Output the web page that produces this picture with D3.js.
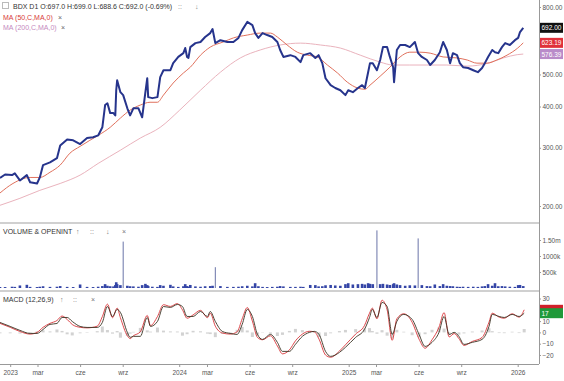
<!DOCTYPE html>
<html>
<head>
<meta charset="utf-8">
<script src="https://cdn.jsdelivr.net/npm/d3@7"></script>
<style>
  body { margin: 0; background: #fff; }
  svg { display: block; font-family: "Liberation Sans", Arial, sans-serif; }
  .axis path, .axis line { stroke: #999; }
  .axis text { fill: #555; font-size: 6.5px; }
</style>
</head>
<body>
<div id="chart"></div>
<script>
// price panel (daily bars)
const priceDates = ["2022-12-10","2022-12-21","2023-01-05","2023-01-11","2023-01-22","2023-02-06","2023-02-13","2023-02-28","2023-03-06","2023-03-13",
  "2023-03-28","2023-04-12","2023-04-19","2023-05-04","2023-05-17","2023-06-01","2023-06-16","2023-06-29","2023-07-10","2023-07-19",
  "2023-07-25","2023-07-30","2023-08-05","2023-08-12","2023-08-16","2023-08-18","2023-08-20","2023-08-27","2023-09-02","2023-09-11",
  "2023-09-17","2023-09-24","2023-10-05","2023-10-13","2023-10-20","2023-10-24","2023-10-26","2023-11-04","2023-11-15","2023-11-21",
  "2023-11-28","2023-12-13","2023-12-19","2023-12-30","2024-01-10","2024-01-14","2024-01-18","2024-01-21","2024-01-25","2024-02-05",
  "2024-02-16","2024-02-26","2024-03-08","2024-03-13","2024-03-19","2024-03-30","2024-04-14","2024-04-27","2024-05-08","2024-05-16",
  "2024-05-27","2024-06-07","2024-06-13","2024-06-20","2024-06-29","2024-07-09","2024-07-20","2024-07-31","2024-08-06","2024-08-13",
  "2024-08-28","2024-09-08","2024-09-19","2024-09-25","2024-10-10","2024-10-21","2024-10-28","2024-11-05","2024-11-12","2024-11-23",
  "2024-12-03","2024-12-14","2024-12-25","2024-12-31","2025-01-10","2025-01-21","2025-01-30","2025-02-05","2025-02-12","2025-02-16",
  "2025-02-22","2025-03-03","2025-03-10","2025-03-16","2025-03-25","2025-03-31","2025-04-07","2025-04-09","2025-04-15","2025-04-22",
  "2025-05-03","2025-05-13","2025-05-24","2025-05-31","2025-06-08","2025-06-19","2025-06-26","2025-07-06","2025-07-17","2025-07-24",
  "2025-08-01","2025-08-08","2025-08-14","2025-08-23","2025-08-29","2025-09-05","2025-09-16","2025-09-27","2025-10-07","2025-10-16",
  "2025-10-22","2025-10-29","2025-11-07","2025-11-13","2025-11-20","2025-11-28","2025-12-05","2025-12-15","2025-12-26","2026-01-02",
  "2026-01-06","2026-01-13"];
const closes = [243,249,248,251,239,248,236,234,244,266,
  271,279,305,318,316,308,321,323,327,346,
  404,409,382,382,376,448,480,442,433,395,
  376,395,395,371,442,487,427,424,427,491,
  515,515,541,565,580,601,565,561,605,622,
  627,649,667,686,622,635,627,627,645,681,
  721,705,667,645,667,658,649,627,593,565,
  572,565,545,572,580,561,572,541,487,464,
  455,448,433,448,442,455,464,455,508,541,
  541,515,553,605,605,565,526,474,593,614,
  614,605,627,580,565,553,534,553,584,627,
  593,541,580,572,541,526,523,515,508,523,
  541,565,593,584,580,605,622,614,635,645,
  672,692];
const volumes = [35,30,40,35,80,100,35,30,40,55,
  35,40,60,35,30,110,35,30,40,60,
  120,70,55,50,90,180,120,90,1450,70,
  55,50,40,90,130,90,60,40,35,90,
  70,100,50,35,55,120,60,40,95,50,
  40,55,60,70,650,60,35,35,40,55,
  70,50,150,55,35,30,35,40,60,50,
  35,35,40,35,95,90,50,55,85,95,
  80,70,120,150,110,120,130,110,150,130,
  120,1800,120,130,110,95,120,150,110,90,
  70,85,80,1550,90,60,55,110,60,120,
  70,60,55,40,35,40,35,40,35,50,
  60,120,70,150,55,60,50,40,35,90,
  95,60]; // thousands

const ma50Dates = ["2022-12-10","2023-01-07","2023-02-13","2023-03-06","2023-03-28","2023-04-19","2023-05-10","2023-06-01","2023-06-22","2023-07-10",
  "2023-08-05","2023-08-27","2023-09-17","2023-10-09","2023-10-30","2023-11-15","2023-11-28","2023-12-19","2024-01-10","2024-01-25",
  "2024-02-16","2024-03-08","2024-04-05","2024-04-27","2024-05-27","2024-06-24","2024-07-16","2024-07-31","2024-08-21","2024-09-12",
  "2024-10-04","2024-10-25","2024-11-16","2024-12-08","2024-12-29","2025-01-20","2025-02-05","2025-02-16","2025-03-10","2025-03-31",
  "2025-04-22","2025-05-13","2025-06-04","2025-06-26","2025-07-24","2025-08-23","2025-09-14","2025-10-05","2025-10-27","2025-11-17",
  "2025-12-09","2026-01-01","2026-01-13"];
const ma50 = [219,234,244,244,253,266,289,303,316,327,
  346,369,390,404,412,412,433,471,505,526,
  572,605,627,645,658,667,667,649,614,584,
  572,565,534,505,474,455,451,464,494,526,
  565,584,584,580,565,561,553,541,541,553,
  572,601,623.19];

const ma200Dates = ["2022-12-10","2023-01-22","2023-03-06","2023-04-19","2023-06-01","2023-07-10","2023-08-27","2023-10-09","2023-11-21","2024-01-02",
  "2024-02-16","2024-03-30","2024-05-12","2024-06-24","2024-08-06","2024-09-19","2024-11-01","2024-12-14","2025-01-26","2025-03-10",
  "2025-04-07","2025-05-13","2025-06-19","2025-08-01","2025-09-14","2025-10-27","2025-12-01","2025-12-31","2026-01-13"];
const ma200 = [201,211,223,234,248,269,295,321,346,390,
  448,508,561,593,614,622,614,601,572,545,
  534,534,534,534,530,540,561,574,576.39];

// MACD (12,26,9)
const macdDates = ["2022-12-10","2023-01-01","2023-01-22","2023-02-13","2023-02-28","2023-03-13","2023-03-28","2023-04-12","2023-04-23","2023-05-04",
  "2023-05-15","2023-06-01","2023-06-16","2023-07-08","2023-07-19","2023-07-30","2023-08-10","2023-08-20","2023-08-27","2023-09-11",
  "2023-09-17","2023-09-24","2023-10-09","2023-10-24","2023-10-31","2023-11-15","2023-11-28","2023-12-13","2023-12-28","2024-01-08",
  "2024-01-18","2024-01-31","2024-02-16","2024-03-02","2024-03-08","2024-03-19","2024-04-03","2024-04-20","2024-05-05","2024-05-16",
  "2024-05-27","2024-06-07","2024-06-18","2024-06-29","2024-07-16","2024-07-31","2024-08-11","2024-08-26","2024-09-08","2024-09-23",
  "2024-10-08","2024-10-19","2024-10-29","2024-11-12","2024-11-23","2024-12-12","2024-12-25","2025-01-16","2025-02-04","2025-02-15",
  "2025-02-21","2025-03-03","2025-03-14","2025-03-25","2025-04-05","2025-04-15","2025-04-30","2025-05-18","2025-06-02","2025-06-15",
  "2025-06-30","2025-07-15","2025-07-26","2025-08-06","2025-08-17","2025-08-27","2025-09-07","2025-09-25","2025-10-16","2025-10-31",
  "2025-11-07","2025-11-22","2025-12-03","2025-12-20","2026-01-04","2026-01-15"];
const macdLine = [8,4.5,0.8,-1.5,0,4.5,8,10.5,14.5,11.5,
  7,4.5,4,5.5,14,25,13,21.5,13,-3,
  -5.5,-3,0.5,15,6,14,24.5,23,25.5,20,
  12.5,15.5,19.5,13,17,5.5,-0.5,-1.5,0.5,12,
  22,10,-4.5,-6.5,-3,-12,-19,-15.5,-7.5,-1.5,
  1,0.5,-6,-20,-22,-16.5,-11,-1.5,6,17,
  21.5,12,28.5,20,-7,12,16.5,9,-6,-14,
  -6.5,4.5,17.5,-4,-1,-5.5,-11.5,-8,-4.5,9,
  17,13.5,12.5,16.5,13.5,20];
const signalLine = [8.8,5.3,1.8,-0.9,-0.9,2.6,7.1,7.9,13.2,13.2,
  9.7,5.3,4.4,4.4,8.8,22.9,14.1,20.3,17.7,0,
  -4.4,-3.5,-3.5,13.2,5.3,9.7,22.9,22.1,24.7,22.9,
  14.1,14.1,18.5,14.1,18.5,9.7,0.9,-0.9,-1.8,7.1,
  20.3,14.1,-1.8,-6.2,-1.8,-8.8,-16.8,-16.8,-10.6,-3.5,
  0,0.9,-1.8,-16.8,-21.2,-17.7,-13.2,-4.4,2.6,13.2,
  20.3,13.2,26.5,22.9,-1.8,9.7,15.9,11.5,-1.8,-12.4,
  -8.8,0,14.1,-1.8,0,-3.5,-10.6,-8.8,-6.2,5.3,
  15.9,14.1,13.2,15.9,14.1,17];

const xTickDates = ["2023-01-01","2023-03-01","2023-06-01","2023-09-01","2024-01-01","2024-03-01","2024-06-01","2024-09-01",
  "2025-01-01","2025-03-01","2025-06-01","2025-09-01","2026-01-01"];
const xTickLabels = ["2023","mar","cze","wrz","2024","mar","cze","wrz","2025","mar","cze","wrz","2026"];

const W = 564, H = 381, axisX = 539;
const parse = d3.utcParse("%Y-%m-%d");

const svg = d3.select("#chart").append("svg").attr("width", W).attr("height", H);

const x = d3.scaleUtc()
    .domain([parse("2022-12-10"), parse("2026-02-16")])
    .range([0, axisX]);

// ---------- price panel ----------
const yPrice = d3.scaleLog().domain([200, 800]).range([206, 7]);

const priceLine = d3.line()
    .x((d, i) => x(parse(priceDates[i])))
    .y(d => yPrice(d));

svg.append("path")
    .attr("d", d3.line().x((d, i) => x(parse(ma200Dates[i]))).y(d => yPrice(d)).curve(d3.curveMonotoneX)(ma200))
    .attr("fill", "none").attr("stroke", "#eab3bd").attr("stroke-width", 1);
svg.append("path")
    .attr("d", d3.line().x((d, i) => x(parse(ma50Dates[i]))).y(d => yPrice(d)).curve(d3.curveMonotoneX)(ma50))
    .attr("fill", "none").attr("stroke", "#e0705c").attr("stroke-width", 1);
svg.append("path")
    .attr("d", priceLine(closes))
    .attr("fill", "none").attr("stroke", "#26348c").attr("stroke-width", 2)
    .attr("stroke-linejoin", "round");

svg.append("g").attr("class", "axis")
    .attr("transform", `translate(${axisX},0)`)
    .call(d3.axisRight(yPrice).tickValues([200, 300, 400, 500, 800]).tickFormat(d3.format(".2f")).tickSize(2).tickPadding(1.5))
    .call(g => g.select(".domain").remove());

// ---------- volume panel ----------
const yVol = d3.scaleLinear().domain([0, 1500]).range([288, 240]);
svg.append("g").selectAll("line").data(volumes).join("line")
    .attr("x1", (d, i) => x(parse(priceDates[i])))
    .attr("x2", (d, i) => x(parse(priceDates[i])))
    .attr("y1", yVol(0))
    .attr("y2", d => yVol(d))
    .attr("stroke", d => d > 500 ? "#6a74a8" : "#3445a6")
    .attr("stroke-width", d => d > 500 ? 1 : 2.6);

svg.append("g").attr("class", "axis")
    .attr("transform", `translate(${axisX},0)`)
    .call(d3.axisRight(yVol).tickValues([500, 1000, 1500])
        .tickFormat(d => d === 1500 ? "1.50m" : d + "k").tickSize(2).tickPadding(1.5))
    .call(g => g.select(".domain").remove());

// ---------- MACD panel ----------
const yMacd = d3.scaleLinear().domain([-20, 30]).range([355, 298.5]);
const hist = macdLine.map((d, i) => d - signalLine[i]);
svg.append("g").selectAll("rect").data(hist).join("rect")
    .attr("x", (d, i) => x(parse(macdDates[i])) - 1.5)
    .attr("width", 3)
    .attr("y", d => Math.min(yMacd(d), yMacd(0)))
    .attr("height", d => Math.abs(yMacd(d) - yMacd(0)))
    .attr("fill", "#d2d2d2");
svg.append("path")
    .attr("d", d3.line().x((d, i) => x(parse(macdDates[i]))).y(d => yMacd(d)).curve(d3.curveMonotoneX)(macdLine))
    .attr("fill", "none").attr("stroke", "#d9363a").attr("stroke-width", 0.9);
svg.append("path")
    .attr("d", d3.line().x((d, i) => x(parse(macdDates[i]))).y(d => yMacd(d)).curve(d3.curveMonotoneX)(signalLine))
    .attr("fill", "none").attr("stroke", "#3a3222").attr("stroke-width", 0.9);

svg.append("g").attr("class", "axis")
    .attr("transform", `translate(${axisX},0)`)
    .call(d3.axisRight(yMacd).tickValues([-20, -10, 0, 10, 30]).tickSize(2).tickPadding(1.5))
    .call(g => g.select(".domain").remove());

// ---------- frame ----------
svg.append("line").attr("x1", axisX + 0.5).attr("x2", axisX + 0.5).attr("y1", 0).attr("y2", 364)
    .attr("stroke", "#999");
svg.append("rect").attr("x", 0).attr("y", 222).attr("width", axisX).attr("height", 2).attr("fill", "#d0d0d0");
svg.append("rect").attr("x", 0).attr("y", 290).attr("width", axisX).attr("height", 2).attr("fill", "#d0d0d0");
svg.append("line").attr("x1", 0).attr("x2", axisX).attr("y1", 364.5).attr("y2", 364.5).attr("stroke", "#999");

svg.append("g").attr("class", "axis")
    .attr("transform", "translate(0,364)")
    .call(d3.axisBottom(x).tickValues(xTickDates.map(parse))
        .tickFormat((d, i) => xTickLabels[i]).tickSize(3).tickPadding(3))
    .call(g => g.select(".domain").remove());

// ---------- value tags ----------
function tag(y, text, bg) {
    svg.append("rect").attr("x", axisX + 1).attr("y", y - 5).attr("width", 23).attr("height", 10).attr("fill", bg);
    if (text) svg.append("text").attr("x", axisX + 2.5).attr("y", y + 2.5).attr("fill", "#fff")
        .attr("font-size", 6.5).text(text);
}
tag(yPrice(closes[closes.length - 1]), "692.00", "#111");
tag(yPrice(ma50[ma50.length - 1]), "623.19", "#e0303a");
tag(yPrice(ma200[ma200.length - 1]), "576.39", "#b98bc9");
tag(yMacd(macdLine[macdLine.length - 1]), "", "#d0202a");
tag(yMacd(signalLine[signalLine.length - 1]), "17", "#1f9a3a");

// ---------- legends ----------
const leg = svg.append("g").attr("font-size", 7);
leg.append("rect").attr("x", 2.5).attr("y", 2.5).attr("width", 6).attr("height", 6)
    .attr("fill", "none").attr("stroke", "#bbb");
leg.append("text").attr("x", 13).attr("y", 9).attr("fill", "#333")
    .text("BDX  D1  O:697.0  H:699.0  L:688.6  C:692.0  (-0.69%)");
leg.append("text").attr("x", 178).attr("y", 9).attr("fill", "#888").text("::");
leg.append("text").attr("x", 195).attr("y", 9).attr("fill", "#888").text("\u2193");
leg.append("text").attr("x", 3).attr("y", 20).attr("fill", "#d83a3a").text("MA (50,C,MA,0)");
leg.append("text").attr("x", 58).attr("y", 20).attr("fill", "#666").text("\u00d7");
leg.append("text").attr("x", 3).attr("y", 30).attr("fill", "#c58ac0").text("MA (200,C,MA,0)");
leg.append("text").attr("x", 61).attr("y", 30).attr("fill", "#666").text("\u00d7");
leg.append("text").attr("x", 3).attr("y", 234).attr("fill", "#333").text("VOLUME & OPENINT");
leg.append("text").attr("x", 76).attr("y", 234).attr("fill", "#777").text("\u2191");
leg.append("text").attr("x", 90).attr("y", 234).attr("fill", "#777").text("::");
leg.append("text").attr("x", 106).attr("y", 234).attr("fill", "#777").text("\u2193");
leg.append("text").attr("x", 122).attr("y", 234).attr("fill", "#777").text("\u00d7");
leg.append("text").attr("x", 3).attr("y", 302).attr("fill", "#333").text("MACD (12,26,9)");
leg.append("text").attr("x", 60).attr("y", 302).attr("fill", "#777").text("\u2191");
leg.append("text").attr("x", 73).attr("y", 302).attr("fill", "#777").text("::");
leg.append("text").attr("x", 91).attr("y", 302).attr("fill", "#777").text("\u00d7");
</script>
</body>
</html>
